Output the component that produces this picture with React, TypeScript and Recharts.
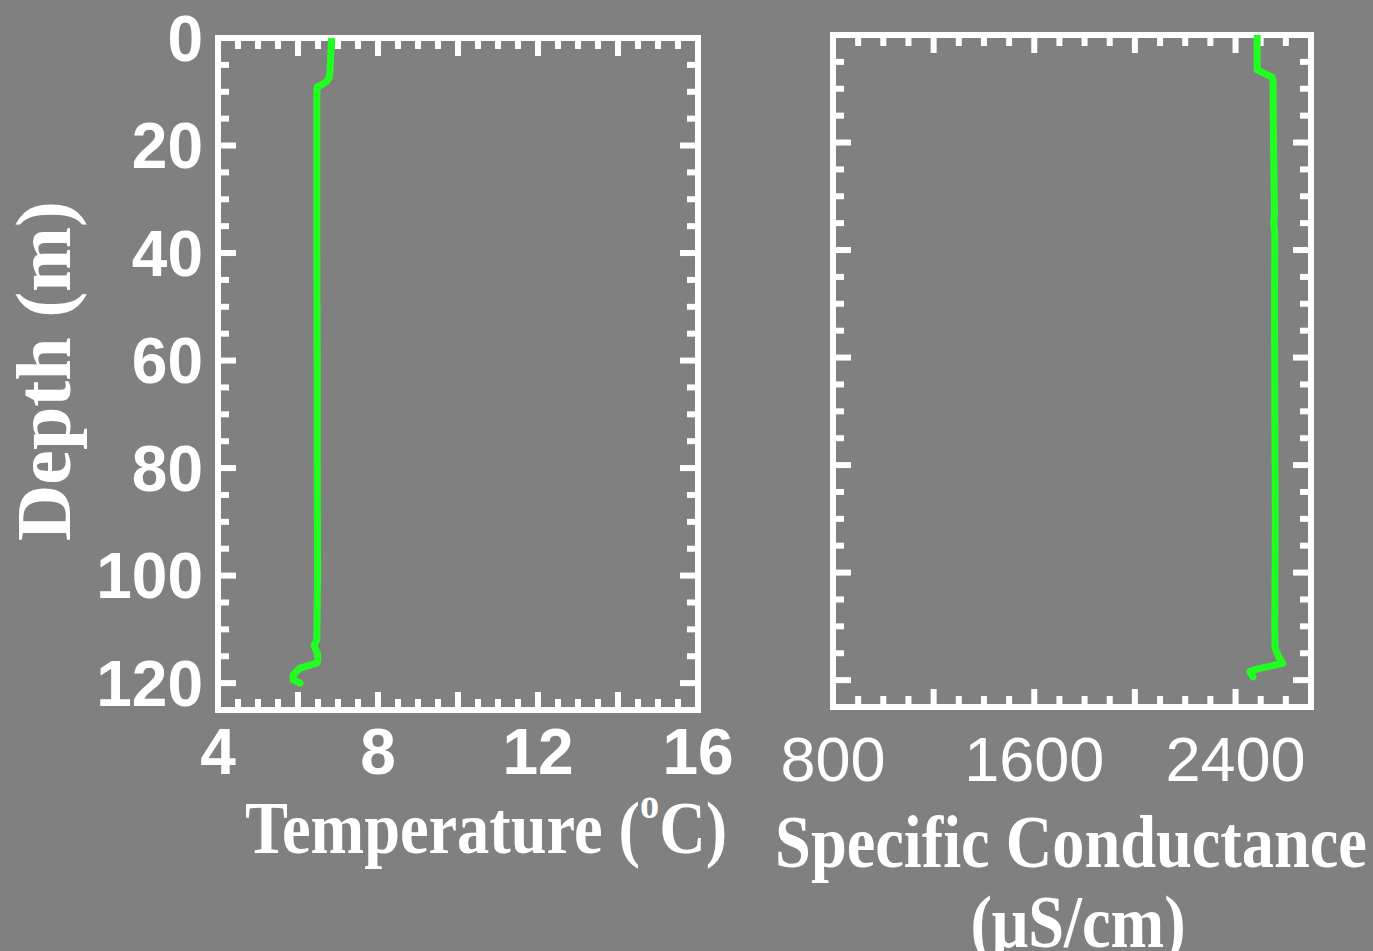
import { ScatterChart, Scatter, XAxis, YAxis } from "recharts";

// depth profiles
const tempDepth = [0, 3, 6, 7.4, 8.2, 8.7, 9.1, 10.6, 20, 40, 60, 80, 100, 112, 113, 114.5, 115.8, 116.3, 117.2, 118.5, 119.4, 120];
const tempValue = [6.84, 6.82, 6.8, 6.78, 6.7, 6.59, 6.48, 6.47, 6.47, 6.47, 6.48, 6.48, 6.49, 6.47, 6.4, 6.49, 6.49, 6.47, 6.05, 5.88, 5.88, 6.05];

const condDepth = [0, 6.5, 7.2, 7.8, 8.4, 20, 33, 35, 37, 50, 70, 90, 100, 110, 114, 115.5, 116.9, 117.9, 118.4, 119.4];
const condValue = [2486, 2486, 2517, 2544, 2549, 2551, 2555, 2552, 2556, 2555, 2556, 2558, 2557, 2556, 2557, 2570, 2587, 2489, 2457, 2469];

const depthMajor = [0, 20, 40, 60, 80, 100, 120];
const depthMinor = [5, 10, 15, 25, 30, 35, 45, 50, 55, 65, 70, 75, 85, 90, 95, 105, 110, 115];
const tempMajor = [4, 6, 8, 10, 12, 14, 16];
const tempMinor = [4.5, 5, 5.5, 6.5, 7, 7.5, 8.5, 9, 9.5, 10.5, 11, 11.5, 12.5, 13, 13.5, 14.5, 15, 15.5];
const tempLabels = [4, 8, 12, 16];
const condMajor = [800, 1200, 1600, 2000, 2400];
const condMinor = [900, 1000, 1100, 1300, 1400, 1500, 1700, 1800, 1900, 2100, 2200, 2300, 2500, 2600];
const condLabels = [800, 1600, 2400];

const depthDomain = [0, 125];
const tempDomain = [4, 16];
const condDomain = [800, 2700];

const tempData = tempDepth.map((d, i) => ({ x: tempValue[i], y: d }));
const condData = condDepth.map((d, i) => ({ x: condValue[i], y: d }));

const GREEN = "#20ff20";
const frame = { stroke: "#fff", strokeWidth: 6, strokeLinecap: "square" as const };
const tickStyle = { stroke: "#fff", strokeWidth: 6 };

const NoLabel = () => <g />;

// inward ticks on all four sides, plus the white frame
function frameAxes(xd: number[], xMajor: number[], xMinor: number[]) {
  const c = { type: "number" as const, mirror: true, interval: 0 as const, tick: NoLabel, stroke: "#fff", allowDataOverflow: true };
  return [
    <XAxis key="tM" xAxisId="tM" dataKey="x" orientation="top" height={1} domain={xd} ticks={xMajor} tickSize={18} tickLine={tickStyle} axisLine={frame} {...c} />,
    <XAxis key="tm" xAxisId="tm" dataKey="x" orientation="top" height={1} domain={xd} ticks={xMinor} tickSize={10} tickLine={tickStyle} axisLine={false} {...c} />,
    <XAxis key="bM" xAxisId="bM" dataKey="x" orientation="bottom" height={1} domain={xd} ticks={xMajor} tickSize={18} tickLine={tickStyle} axisLine={frame} {...c} />,
    <XAxis key="bm" xAxisId="bm" dataKey="x" orientation="bottom" height={1} domain={xd} ticks={xMinor} tickSize={10} tickLine={tickStyle} axisLine={false} {...c} />,
    <YAxis key="lM" yAxisId="lM" dataKey="y" orientation="left" width={1} reversed domain={depthDomain} ticks={depthMajor} tickSize={18} tickLine={tickStyle} axisLine={frame} {...c} />,
    <YAxis key="lm" yAxisId="lm" dataKey="y" orientation="left" width={1} reversed domain={depthDomain} ticks={depthMinor} tickSize={10} tickLine={tickStyle} axisLine={false} {...c} />,
    <YAxis key="rM" yAxisId="rM" dataKey="y" orientation="right" width={1} reversed domain={depthDomain} ticks={depthMajor} tickSize={18} tickLine={tickStyle} axisLine={frame} {...c} />,
    <YAxis key="rm" yAxisId="rm" dataKey="y" orientation="right" width={1} reversed domain={depthDomain} ticks={depthMinor} tickSize={10} tickLine={tickStyle} axisLine={false} {...c} />,
  ];
}

const boldTick = { fill: "#fff", fontSize: 64, fontWeight: "bold", fontFamily: "Liberation Sans, Arial, sans-serif" };
const plainTick = { fill: "#fff", fontSize: 63, fontFamily: "Liberation Sans, Arial, sans-serif" };
const serif = "Liberation Serif, Times New Roman, serif";
const greenLine = { stroke: GREEN, strokeWidth: 7, strokeLinejoin: "round" as const, strokeLinecap: "round" as const };

export default function App() {
  return (
    <div style={{ position: "absolute", left: 0, top: 0, width: 1373, height: 951, background: "#808080", overflow: "hidden" }}>
      <div style={{ position: "absolute", left: 0, top: 0 }}>
        <ScatterChart width={740} height={951} margin={{ top: 38, right: 42, left: 98, bottom: 171 }}>
          <XAxis
            xAxisId="lab"
            dataKey="x"
            type="number"
            orientation="bottom"
            height={70}
            domain={tempDomain}
            allowDataOverflow
            ticks={tempLabels}
            interval={0}
            tickLine={false}
            axisLine={false}
            tickSize={6}
            tickMargin={13}
            tick={boldTick}
          />
          <YAxis
            yAxisId="lab"
            dataKey="y"
            type="number"
            orientation="left"
            width={120}
            reversed
            domain={depthDomain}
            allowDataOverflow
            ticks={depthMajor}
            interval={0}
            tickLine={false}
            axisLine={false}
            tickSize={6}
            tickMargin={9}
            tick={boldTick}
          />
          {frameAxes(tempDomain, tempMajor, tempMinor)}
          <Scatter
            data={tempData}
            xAxisId="lab"
            yAxisId="lab"
            fill={GREEN}
            line={greenLine}
            shape={NoLabel}
            isAnimationActive={false}
          />
        </ScatterChart>
      </div>
      <div style={{ position: "absolute", left: 760, top: 0 }}>
        <ScatterChart width={613} height={951} margin={{ top: 35, right: 62, left: 73, bottom: 174 }}>
          <XAxis
            xAxisId="lab"
            dataKey="x"
            type="number"
            orientation="bottom"
            height={70}
            domain={condDomain}
            allowDataOverflow
            ticks={condLabels}
            interval={0}
            tickLine={false}
            axisLine={false}
            tickSize={6}
            tickMargin={23}
            tick={plainTick}
          />
          {frameAxes(condDomain, condMajor, condMinor)}
          <Scatter
            data={condData}
            xAxisId="lab"
            yAxisId="lM"
            fill={GREEN}
            line={greenLine}
            shape={NoLabel}
            isAnimationActive={false}
          />
        </ScatterChart>
      </div>
      <svg width={1373} height={951} style={{ position: "absolute", left: 0, top: 0, pointerEvents: "none" }}>
        <g fill="#fff" fontFamily={serif} fontWeight="bold">
          <text transform="translate(70,371) rotate(-90)" textAnchor="middle" fontSize={78}>
            Depth (m)
          </text>
          <text transform="translate(486,853) scale(0.87,1)" textAnchor="middle" fontSize={74}>
            Temperature (<tspan fontSize={44} dy={-35}>o</tspan>
            <tspan fontSize={74} dy={35}>C)</tspan>
          </text>
          <text transform="translate(1071,867) scale(0.87,1)" textAnchor="middle" fontSize={74}>
            Specific Conductance
          </text>
          <text transform="translate(1078,947) scale(0.87,1)" textAnchor="middle" fontSize={74}>
            (μS/cm)
          </text>
        </g>
      </svg>
    </div>
  );
}
